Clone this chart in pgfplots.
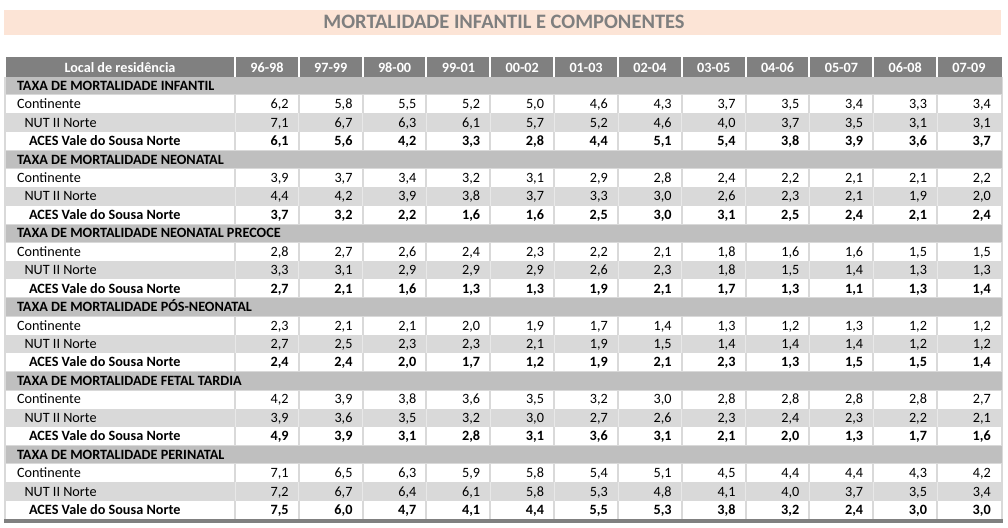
\documentclass[border=0pt]{standalone}
\usepackage{pgfplots}
\pgfplotsset{compat=1.18}
\usepackage{pgfplotstable}
\usepackage{fontspec}
\setmainfont{Carlito}

\definecolor{titlebg}{HTML}{FCE4D6}
\definecolor{titlefg}{HTML}{7F7F7F}
\definecolor{headbg}{HTML}{808080}
\definecolor{secbg}{HTML}{BFBFBF}
\definecolor{rowbg}{HTML}{D9D9D9}
\definecolor{nutsep}{HTML}{E8E8E8}

% one table per indicator: period k (1 = 96-98 ... 12 = 07-09),
% Continente, NUT II Norte, ACES Vale do Sousa Norte
\pgfplotstableread{
k cont nut aces
1  6.2 7.1 6.1
2  5.8 6.7 5.6
3  5.5 6.3 4.2
4  5.2 6.1 3.3
5  5.0 5.7 2.8
6  4.6 5.2 4.4
7  4.3 4.6 5.1
8  3.7 4.0 5.4
9  3.5 3.7 3.8
10 3.4 3.5 3.9
11 3.3 3.1 3.6
12 3.4 3.1 3.7
}\infantil
\pgfplotstableread{
k cont nut aces
1  3.9 4.4 3.7
2  3.7 4.2 3.2
3  3.4 3.9 2.2
4  3.2 3.8 1.6
5  3.1 3.7 1.6
6  2.9 3.3 2.5
7  2.8 3.0 3.0
8  2.4 2.6 3.1
9  2.2 2.3 2.5
10 2.1 2.1 2.4
11 2.1 1.9 2.1
12 2.2 2.0 2.4
}\neonatal
\pgfplotstableread{
k cont nut aces
1  2.8 3.3 2.7
2  2.7 3.1 2.1
3  2.6 2.9 1.6
4  2.4 2.9 1.3
5  2.3 2.9 1.3
6  2.2 2.6 1.9
7  2.1 2.3 2.1
8  1.8 1.8 1.7
9  1.6 1.5 1.3
10 1.6 1.4 1.1
11 1.5 1.3 1.3
12 1.5 1.3 1.4
}\precoce
\pgfplotstableread{
k cont nut aces
1  2.3 2.7 2.4
2  2.1 2.5 2.4
3  2.1 2.3 2.0
4  2.0 2.3 1.7
5  1.9 2.1 1.2
6  1.7 1.9 1.9
7  1.4 1.5 2.1
8  1.3 1.4 2.3
9  1.2 1.4 1.3
10 1.3 1.4 1.5
11 1.2 1.2 1.5
12 1.2 1.2 1.4
}\posneo
\pgfplotstableread{
k cont nut aces
1  4.2 3.9 4.9
2  3.9 3.6 3.9
3  3.8 3.5 3.1
4  3.6 3.2 2.8
5  3.5 3.0 3.1
6  3.2 2.7 3.6
7  3.0 2.6 3.1
8  2.8 2.3 2.1
9  2.8 2.4 2.0
10 2.8 2.3 1.3
11 2.8 2.2 1.7
12 2.7 2.1 1.6
}\fetal
\pgfplotstableread{
k cont nut aces
1  7.1 7.2 7.5
2  6.5 6.7 6.0
3  6.3 6.4 4.7
4  5.9 6.1 4.1
5  5.8 5.8 4.4
6  5.4 5.3 5.5
7  5.1 4.8 5.3
8  4.5 4.1 3.8
9  4.4 4.0 3.2
10 4.4 3.7 2.4
11 4.3 3.5 3.0
12 4.2 3.4 3.0
}\perinatal

% row top in px
\newcommand{\ry}[1]{(76.5+18.45*(#1))}
\newcommand{\tfont}{\fontsize{14.2}{14.2}\selectfont}

\pgfplotsset{
  valnum/.style={
    draw=none, mark=none, point meta=explicit,
    nodes near coords={\pgfmathprintnumber[fixed,fixed zerofill,precision=1,use comma,assume math mode=true]{\pgfplotspointmeta}},
    every node near coord/.append style={anchor=base east, inner sep=0pt, text=black, font=\tfont},
  },
}
% #1 table, #2 row index, #3 column, #4 extra style
\newcommand{\vals}[4]{%
  \addplot[valnum,#4] table[x expr={235+63.83*\thisrow{k}-10}, y expr={76.5+18.45*(#2+0.5)+4.5}, meta=#3] {#1};
}

\begin{document}
\begin{tikzpicture}
\begin{axis}[
  width=1008pt, height=527pt, scale only axis,
  xmin=0, xmax=1008, ymin=0, ymax=527, y dir=reverse,
  hide axis, clip=false,
]
\fill[white] (axis cs:0,0) rectangle (axis cs:1008,527);

% title band
\fill[titlebg] (axis cs:4,10) rectangle (axis cs:1001,35);
\node[anchor=base, text=titlefg, font=\bfseries\fontsize{20.5}{20.5}\selectfont] at (axis cs:504,28.5) {MORTALIDADE INFANTIL E COMPONENTES};

% header
\fill[headbg] (axis cs:5.5,57.5) rectangle (axis cs:1001.5,76.5);
\draw[white, line width=2pt] \foreach \k in {0,...,11} {(axis cs:{235+63.83*\k},57.5) -- (axis cs:{235+63.83*\k},76.5)};
\node[anchor=base, text=white, font=\bfseries\tfont] at (axis cs:120,72) {Local de residência};
\path \foreach \p [count=\i] in {96-98,97-99,98-00,99-01,00-02,01-03,02-04,03-05,04-06,05-07,06-08,07-09}
  {node[anchor=base, text=white, font=\bfseries\tfont] at (axis cs:{235+63.83*(\i-0.5)},72) {\p}};

% body background
\fill[rowbg] (axis cs:4,76.5) rectangle (axis cs:1002.5,{\ry{24}});
\pgfplotsinvokeforeach{0,...,5}{
  \fill[secbg] (axis cs:5.5,{\ry{4*#1}+0.5}) rectangle (axis cs:1001.5,{\ry{4*#1+1}-0.5});
  \fill[white] (axis cs:6,{\ry{4*#1+1}+0.5}) rectangle (axis cs:1001,{\ry{4*#1+2}});
  \fill[white] (axis cs:6,{\ry{4*#1+3}}) rectangle (axis cs:1001,{\ry{4*#1+4}-0.5});
  \draw[rowbg, line width=2pt] \foreach \k in {0,...,11} {
    (axis cs:{235+63.83*\k},{\ry{4*#1+1}}) -- (axis cs:{235+63.83*\k},{\ry{4*#1+2}})
    (axis cs:{235+63.83*\k},{\ry{4*#1+3}}) -- (axis cs:{235+63.83*\k},{\ry{4*#1+4}})};
  \draw[nutsep, line width=0.8pt] \foreach \k in {0,...,11} {
    (axis cs:{235+63.83*\k},{\ry{4*#1+2}}) -- (axis cs:{235+63.83*\k},{\ry{4*#1+3}})};
  \node[anchor=base west, font=\tfont] at (axis cs:13.5,{\ry{4*#1+1.5}+4.5}) {Continente};
  \node[anchor=base west, font=\tfont] at (axis cs:21,{\ry{4*#1+2.5}+4.5}) {NUT II Norte};
  \node[anchor=base west, font=\bfseries\tfont] at (axis cs:25.5,{\ry{4*#1+3.5}+4.5}) {ACES Vale do Sousa Norte};
}
% bottom rule
\fill[headbg] (axis cs:4,{\ry{24}}) rectangle (axis cs:1002.5,{\ry{24}+3.5});

% section titles
\path \foreach \t [count=\i from 0] in {TAXA DE MORTALIDADE INFANTIL,TAXA DE MORTALIDADE NEONATAL,TAXA DE MORTALIDADE NEONATAL PRECOCE,TAXA DE MORTALIDADE PÓS-NEONATAL,TAXA DE MORTALIDADE FETAL TARDIA,TAXA DE MORTALIDADE PERINATAL}
  {node[anchor=base west, font=\bfseries\tfont] at (axis cs:13.5,{\ry{4*\i+0.5}+4.5}) {\t}};

% values
\vals{\infantil}{1}{cont}{}
\vals{\infantil}{2}{nut}{}
\vals{\infantil}{3}{aces}{every node near coord/.append style={font=\bfseries\tfont}}
\vals{\neonatal}{5}{cont}{}
\vals{\neonatal}{6}{nut}{}
\vals{\neonatal}{7}{aces}{every node near coord/.append style={font=\bfseries\tfont}}
\vals{\precoce}{9}{cont}{}
\vals{\precoce}{10}{nut}{}
\vals{\precoce}{11}{aces}{every node near coord/.append style={font=\bfseries\tfont}}
\vals{\posneo}{13}{cont}{}
\vals{\posneo}{14}{nut}{}
\vals{\posneo}{15}{aces}{every node near coord/.append style={font=\bfseries\tfont}}
\vals{\fetal}{17}{cont}{}
\vals{\fetal}{18}{nut}{}
\vals{\fetal}{19}{aces}{every node near coord/.append style={font=\bfseries\tfont}}
\vals{\perinatal}{21}{cont}{}
\vals{\perinatal}{22}{nut}{}
\vals{\perinatal}{23}{aces}{every node near coord/.append style={font=\bfseries\tfont}}
\end{axis}
\end{tikzpicture}
\end{document}
